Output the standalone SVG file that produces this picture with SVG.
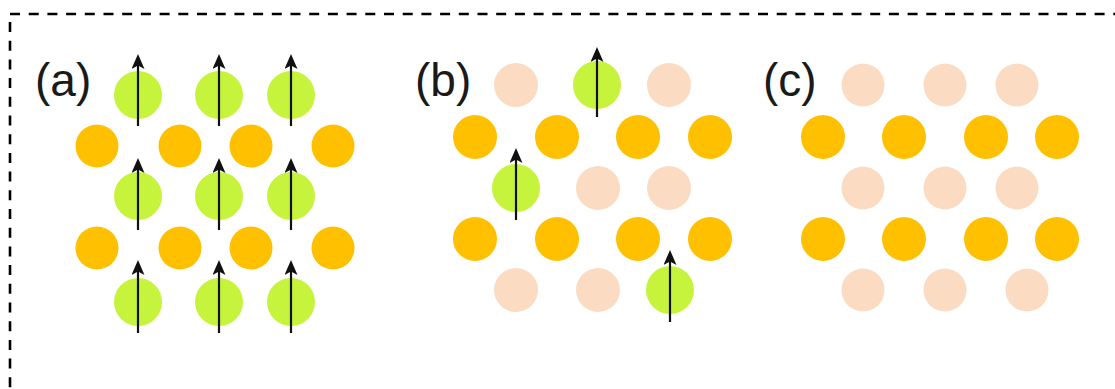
<svg xmlns="http://www.w3.org/2000/svg" width="1115" height="389" viewBox="0 0 1115 389">
  <style>
    .frame { stroke: #000; stroke-width: 2.6; stroke-dasharray: 10 8.7; fill: none; }
    .lbl { font-family: "Liberation Sans", Arial, sans-serif; font-size: 46px; fill: #1a1a1a; }
    .g { fill: #c6f43c; }
    .o { fill: #ffc000; }
    .p { fill: #fbdcc3; }
    .arr { stroke: #111; stroke-width: 2.2; marker-end: url(#head); }
  </style>
  <defs>
    <marker id="head" markerUnits="userSpaceOnUse" markerWidth="16" markerHeight="13" refX="11" refY="6.5" orient="auto">
      <path d="M0,0 L15,6.5 L0,13 L3.5,6.5 z" fill="#111"/>
    </marker>
  </defs>
  <rect width="1115" height="389" fill="#fff"/>
  <g id="frame">
    <line class="frame" x1="10" y1="14" x2="1115" y2="14"/>
    <line class="frame" x1="10" y1="22" x2="10" y2="389"/>
  </g>

  <g id="panel-a">
    <text class="lbl" x="35" y="96">(a)</text>
    <circle class="g" cx="138" cy="95" r="24"/>
    <circle class="g" cx="219" cy="95" r="24"/>
    <circle class="g" cx="291" cy="95" r="24"/>
    <circle class="o" cx="97" cy="146" r="21.5"/>
    <circle class="o" cx="180" cy="146" r="21.5"/>
    <circle class="o" cx="251" cy="146" r="21.5"/>
    <circle class="o" cx="333" cy="146" r="21.5"/>
    <circle class="g" cx="138" cy="196" r="24"/>
    <circle class="g" cx="219" cy="196" r="24"/>
    <circle class="g" cx="291" cy="196" r="24"/>
    <circle class="o" cx="97" cy="248" r="21.5"/>
    <circle class="o" cx="180" cy="248" r="21.5"/>
    <circle class="o" cx="251" cy="248" r="21.5"/>
    <circle class="o" cx="333" cy="248" r="21.5"/>
    <circle class="g" cx="138" cy="302" r="24"/>
    <circle class="g" cx="219" cy="302" r="24"/>
    <circle class="g" cx="291" cy="302" r="24"/>
  </g>

  <g id="panel-b">
    <text class="lbl" x="415" y="96">(b)</text>
    <circle class="p" cx="516" cy="85" r="22"/>
    <circle class="g" cx="597" cy="85" r="24"/>
    <circle class="p" cx="669" cy="85" r="22"/>
    <circle class="o" cx="475" cy="137" r="22"/>
    <circle class="o" cx="557" cy="137" r="22"/>
    <circle class="o" cx="638" cy="137" r="22"/>
    <circle class="o" cx="710" cy="137" r="22"/>
    <circle class="g" cx="516" cy="188" r="24"/>
    <circle class="p" cx="598" cy="188" r="22"/>
    <circle class="p" cx="669" cy="188" r="22"/>
    <circle class="o" cx="475" cy="239" r="22"/>
    <circle class="o" cx="557" cy="239" r="22"/>
    <circle class="o" cx="638" cy="239" r="22"/>
    <circle class="o" cx="710" cy="239" r="22"/>
    <circle class="p" cx="516" cy="290" r="22"/>
    <circle class="p" cx="598" cy="290" r="22"/>
    <circle class="g" cx="670" cy="290" r="24"/>
  </g>

  <g id="panel-c">
    <text class="lbl" x="763" y="96">(c)</text>
    <circle class="p" cx="863" cy="85" r="21.5"/>
    <circle class="p" cx="945" cy="85" r="21.5"/>
    <circle class="p" cx="1017" cy="85" r="21.5"/>
    <circle class="o" cx="823" cy="137" r="22"/>
    <circle class="o" cx="904" cy="137" r="22"/>
    <circle class="o" cx="986" cy="137" r="22"/>
    <circle class="o" cx="1057" cy="137" r="22"/>
    <circle class="p" cx="863" cy="188" r="21.5"/>
    <circle class="p" cx="945" cy="188" r="21.5"/>
    <circle class="p" cx="1017" cy="188" r="21.5"/>
    <circle class="o" cx="823" cy="239" r="22"/>
    <circle class="o" cx="904" cy="239" r="22"/>
    <circle class="o" cx="986" cy="239" r="22"/>
    <circle class="o" cx="1057" cy="239" r="22"/>
    <circle class="p" cx="863" cy="290" r="21.5"/>
    <circle class="p" cx="945" cy="290" r="21.5"/>
    <circle class="p" cx="1027" cy="290" r="21.5"/>
  </g>

  <g id="connectors">
    <line class="arr" x1="138" y1="126" x2="138" y2="58"/>
    <line class="arr" x1="219" y1="126" x2="219" y2="58"/>
    <line class="arr" x1="291" y1="126" x2="291" y2="58"/>
    <line class="arr" x1="138" y1="230" x2="138" y2="162"/>
    <line class="arr" x1="219" y1="230" x2="219" y2="162"/>
    <line class="arr" x1="291" y1="230" x2="291" y2="162"/>
    <line class="arr" x1="138" y1="333" x2="138" y2="264"/>
    <line class="arr" x1="219" y1="333" x2="219" y2="264"/>
    <line class="arr" x1="291" y1="333" x2="291" y2="264"/>
    <line class="arr" x1="597" y1="117" x2="597" y2="51"/>
    <line class="arr" x1="516" y1="220" x2="516" y2="152"/>
    <line class="arr" x1="670" y1="322" x2="670" y2="254"/>
  </g>
</svg>
